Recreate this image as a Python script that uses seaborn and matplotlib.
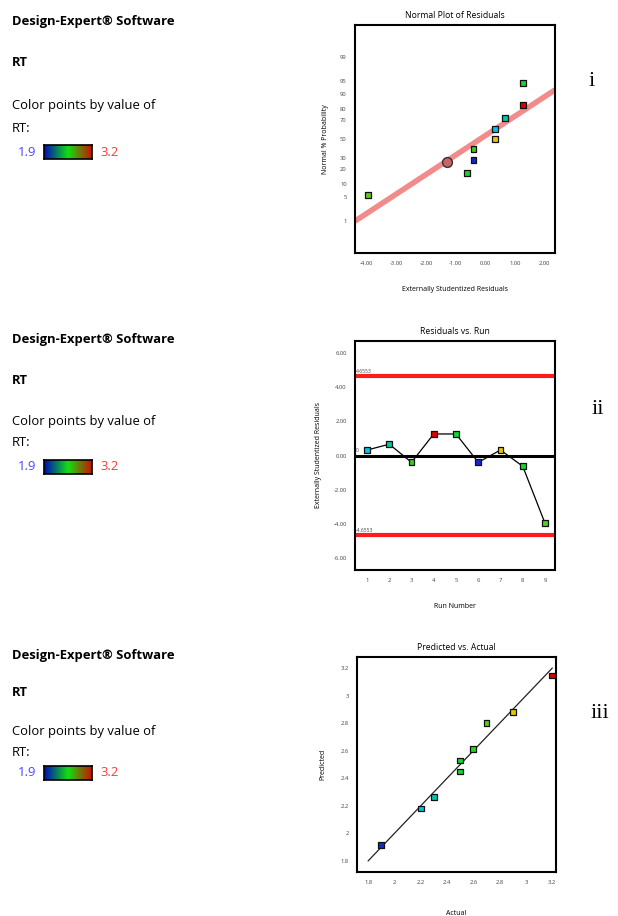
import numpy as np
import pandas as pd
import matplotlib
matplotlib.use("Agg")
import matplotlib.pyplot as plt
import seaborn as sns
from matplotlib.colors import LinearSegmentedColormap
from statistics import NormalDist

# ---------------- data ----------------
run_number = [1, 2, 3, 4, 5, 6, 7, 8, 9]
rt_actual = [2.2, 2.3, 2.6, 3.2, 2.5, 1.9, 2.9, 2.5, 2.7]
rt_predicted = [2.18, 2.265, 2.615, 3.145, 2.45, 1.915, 2.88, 2.53, 2.80]
ext_stud_resid = [0.32, 0.66, -0.40, 1.26, 1.26, -0.40, 0.32, -0.63, -3.96]
normal_order_runs = [9, 8, 6, 3, 7, 1, 2, 4, 5]
normal_prob_pct = [5.6, 16.7, 27.8, 38.9, 50.0, 61.1, 72.2, 83.3, 94.4]
norm_line_resid = [-4.4, 2.35]
norm_line_prob = [1.0, 91.8]
highlight_resid = [-1.29]
highlight_prob = [25.8]
t_limit = 4.6553
fit_line = [1.8, 3.2]
rt_range = [1.9, 3.2]
prob_ticks = [1, 5, 10, 20, 30, 50, 70, 80, 90, 95, 99]
prob_minor = [2, 3, 4, 6, 7, 8, 9, 91, 92, 93, 94, 96, 97, 98]
resid_ticks = [-4, -3, -2, -1, 0, 1, 2]
run_yticks = [-6, -4, -2, 0, 2, 4, 6]
pva_ticks = [1.8, 2.0, 2.2, 2.4, 2.6, 2.8, 3.0, 3.2]

sns.set_style("white")
plt.rcParams["font.family"] = ["Open Sans", "DejaVu Sans"]
plt.rcParams["text.color"] = "black"
plt.rcParams["axes.labelcolor"] = "black"

W, H = 618, 916
fig = plt.figure(figsize=(W / 100, H / 100), dpi=100)

def fx(px):
    return px / W

def fy(py):
    return 1 - py / H

point_cmap = LinearSegmentedColormap.from_list(
    "rt", [(0.0, "#1428d0"), (0.23, "#00c4e8"), (0.31, "#00c8a0"),
           (0.5, "#18d818"), (0.65, "#70c818"), (0.77, "#e8c800"), (1.0, "#e00000")])
bar_cmap = LinearSegmentedColormap.from_list("bar", ["#0008c0", "#10e010", "#d01000"])

nd = NormalDist()
def zq(p):
    return np.array([nd.inv_cdf(v / 100.0) for v in np.atleast_1d(p)])

df = pd.DataFrame({"run": run_number, "actual": rt_actual, "pred": rt_predicted,
                   "resid": ext_stud_resid})

def style_axes(ax):
    for s in ax.spines.values():
        s.set_color("black")
        s.set_linewidth(1.5)
    ax.tick_params(direction="out", length=4, width=1.2, labelsize=4.2,
                   labelcolor="#444444", color="black", pad=2)
    ax.tick_params(which="minor", direction="out", length=2.5, width=1.0, color="black")

mk = dict(marker="s", s=17, edgecolor="#111111", linewidth=0.9, legend=False,
          palette=point_cmap, hue_norm=(rt_range[0], rt_range[1]), zorder=5)

# ---------------- panel i ----------------
ax1 = fig.add_axes([fx(355), fy(253), fx(555) - fx(355), fy(25) - fy(253)])
nd_df = df.set_index("run").loc[normal_order_runs].reset_index()
nd_df["z"] = zq(normal_prob_pct)
ax1.plot(norm_line_resid, zq(norm_line_prob), color="#f07878", lw=4, alpha=0.85,
         solid_capstyle="butt", zorder=2)
sns.scatterplot(data=nd_df, x="resid", y="z", hue="actual", ax=ax1, **mk)
ax1.scatter(highlight_resid, zq(highlight_prob), s=50, color="#c86464",
            edgecolor="#333333", linewidth=1.0, zorder=6)
ax1.set_xlim(-4.4, 2.35)
ax1.set_ylim(-3.23, 3.23)
ax1.set_xticks(resid_ticks)
ax1.set_xticklabels([f"{v:.2f}" for v in resid_ticks])
ax1.set_yticks(zq(prob_ticks))
ax1.set_yticklabels([str(v) for v in prob_ticks])
ax1.set_yticks(zq(prob_minor), minor=True)
ax1.set_title("Normal Plot of Residuals", fontsize=6.2, pad=5)
ax1.set_xlabel("Externally Studentized Residuals", fontsize=5, labelpad=14)
ax1.set_ylabel("Normal % Probability", fontsize=5, labelpad=8)
style_axes(ax1)

# ---------------- panel ii ----------------
ax2 = fig.add_axes([fx(355), fy(570), fx(555) - fx(355), fy(341) - fy(570)])
ax2.axhline(t_limit, color="#ff1c1c", lw=3, zorder=1)
ax2.axhline(-t_limit, color="#ff1c1c", lw=3, zorder=1)
ax2.axhline(0, color="black", lw=2.2, zorder=1)
sns.lineplot(data=df, x="run", y="resid", color="black", lw=0.9, ax=ax2, zorder=3)
sns.scatterplot(data=df, x="run", y="resid", hue="actual", ax=ax2, **mk)
ax2.text(0.5, t_limit + 0.12, f"{t_limit:.4f}", fontsize=3.6, color="#444444", va="bottom")
ax2.text(0.5, -t_limit + 0.12, f"-{t_limit:.4f}", fontsize=3.6, color="#444444", va="bottom")
ax2.text(0.5, 0.12, "0", fontsize=3.6, color="#444444", va="bottom")
ax2.set_xlim(0.46, 9.45)
ax2.set_ylim(-6.7, 6.7)
ax2.set_xticks(run_number)
ax2.set_yticks(run_yticks)
ax2.set_yticklabels([f"{v:.2f}" for v in run_yticks])
ax2.set_title("Residuals vs. Run", fontsize=6.2, pad=5)
ax2.set_xlabel("Run Number", fontsize=5, labelpad=14)
ax2.set_ylabel("Externally Studentized Residuals", fontsize=5, labelpad=8)
style_axes(ax2)

# ---------------- panel iii ----------------
ax3 = fig.add_axes([fx(357), fy(872), fx(556) - fx(357), fy(657) - fy(872)])
ax3.plot(fit_line, fit_line, color="#222222", lw=0.9, zorder=2)
sns.scatterplot(data=df, x="actual", y="pred", hue="actual", ax=ax3, **mk)
ax3.set_xlim(1.716, 3.228)
ax3.set_ylim(1.72, 3.28)
ax3.set_xticks(pva_ticks)
ax3.set_xticklabels([f"{v:g}" for v in pva_ticks])
ax3.set_yticks(pva_ticks)
ax3.set_yticklabels([f"{v:g}" for v in pva_ticks])
ax3.set_title("Predicted vs. Actual", fontsize=6.2, pad=5)
ax3.set_xlabel("Actual", fontsize=5, labelpad=18)
ax3.set_ylabel("Predicted", fontsize=5, labelpad=10)
style_axes(ax3)

# ---------------- left info blocks ----------------
blocks = [(22, 63, 106, 128, 152), (339, 380, 422, 443, 467), (655, 692, 731, 752, 773)]
for (y_title, y_rt, y_c1, y_c2, y_bar) in blocks:
    fig.text(fx(12), fy(y_title), "Design-Expert® Software", fontsize=9.4,
             fontweight="bold", va="center", ha="left")
    fig.text(fx(12), fy(y_rt), "RT", fontsize=9.4, fontweight="bold", va="center", ha="left")
    fig.text(fx(12), fy(y_c1), "Color points by value of", fontsize=9.4, va="center", ha="left")
    fig.text(fx(12), fy(y_c2), "RT:", fontsize=9.4, va="center", ha="left")
    fig.text(fx(18), fy(y_bar), f"{rt_range[0]:g}", fontsize=9.4, color="#4848ff",
             va="center", ha="left")
    fig.text(fx(100), fy(y_bar), f"{rt_range[1]:g}", fontsize=9.4, color="#ff3838",
             va="center", ha="left")
    cax = fig.add_axes([fx(44), fy(y_bar + 7), fx(92) - fx(44), fy(y_bar - 7) - fy(y_bar + 7)])
    cax.imshow(np.linspace(rt_range[0], rt_range[1], 256)[None, :], aspect="auto",
               cmap=bar_cmap, extent=[rt_range[0], rt_range[1], 0, 1])
    cax.set_xticks([])
    cax.set_yticks([])
    for s in cax.spines.values():
        s.set_color("black")
        s.set_linewidth(1.2)

# ---------------- roman numerals ----------------
for lab, xp, yp in [("i", 592, 82), ("ii", 598, 410), ("iii", 600, 713)]:
    fig.text(fx(xp), fy(yp), lab, fontsize=16, family="Liberation Serif",
             ha="center", va="center")

fig.savefig("out.png", dpi=100)
